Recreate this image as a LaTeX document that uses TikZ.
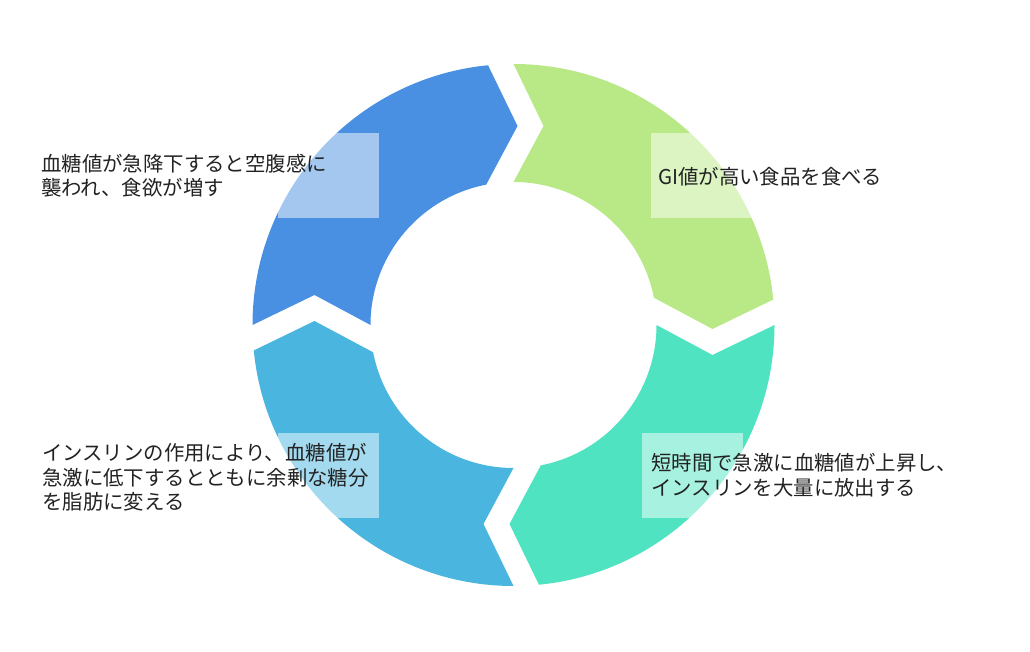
\documentclass[tikz,border=0pt]{standalone}
\usepackage{fontspec}
\newfontfamily\jp{Noto Sans CJK JP}
\definecolor{cgreen}{HTML}{B8E986}
\definecolor{cteal}{HTML}{50E3C2}
\definecolor{clblue}{HTML}{4AB5DF}
\definecolor{cdblue}{HTML}{4A90E2}
\definecolor{ctext}{HTML}{222222}
\begin{document}
\begin{tikzpicture}[x=1pt,y=1pt,
  txt/.style={font=\jp\fontsize{20.4}{24.5}\selectfont, align=left, inner sep=0pt, text=ctext, anchor=west},
  veil/.style={fill=white, fill opacity=0.5, draw=none, inner sep=0pt, minimum width=101pt, minimum height=85pt}]
\useasboundingbox (0,0) rectangle (1030,652);
\foreach \r/\c in {0/cgreen,-90/cteal,-180/clblue,-270/cdblue}{
  \fill[\c, shift={(513.5,327)}, rotate=\r]
    (90:261pt) -- (30pt,199pt) -- (90:143pt)
    arc[start angle=90, end angle=11, radius=143pt]
    -- (199pt,-4pt) -- (5.6:261pt)
    arc[start angle=5.6, end angle=90, radius=261pt] -- cycle;
}
\node[veil] (v1) at (328.5,476.5) {};
\node[veil] (v2) at (701,476.5) {};
\node[veil] (v3) at (692.5,176.5) {};
\node[veil] (v4) at (328.5,176.5) {};
\node[txt] (t1) at (41,476.5) {血糖値が急降下すると空腹感に\\襲われ、食欲が増す};
\node[txt] (t2) at (658,475) {GI値が高い食品を食べる};
\node[txt] (t3) at (651,177) {短時間で急激に血糖値が上昇し、\\インスリンを大量に放出する};
\node[txt] (t4) at (42,174.3) {インスリンの作用により、血糖値が\\急激に低下するとともに余剰な糖分\\を脂肪に変える};
\end{tikzpicture}
\end{document}
